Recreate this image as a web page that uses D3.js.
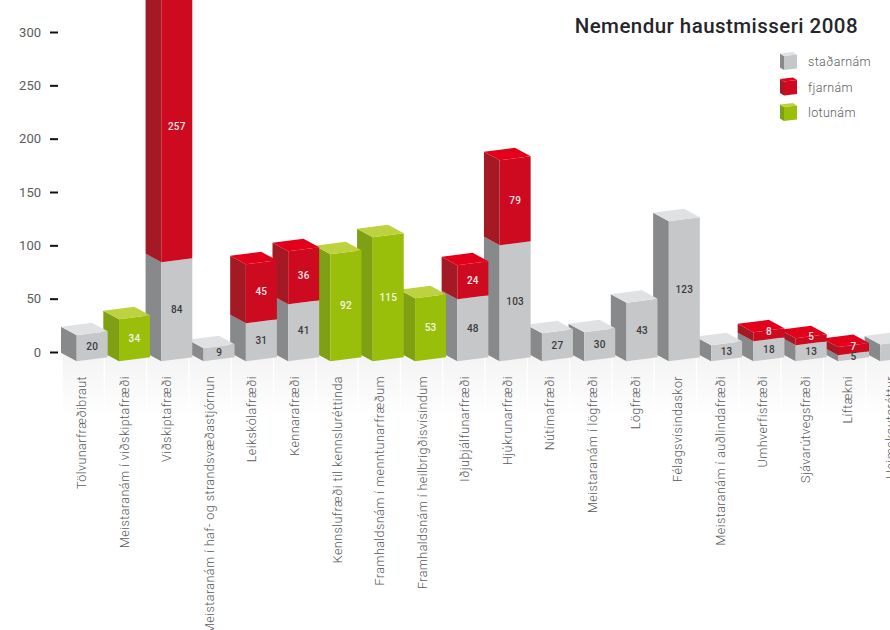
<!DOCTYPE html>
<html><head><meta charset="utf-8">
<script src="https://cdn.jsdelivr.net/npm/d3@7/dist/d3.min.js"></script>
<style>html,body{margin:0;padding:0;background:#fff;overflow:hidden}svg{display:block}text{font-family:Roboto,sans-serif}</style>
</head><body><svg id="c" width="890" height="630"></svg>
<script>
const title = "Nemendur haustmisseri 2008";
const categories = ["Tölvunarfræðibraut","Meistaranám í viðskiptafræði","Viðskiptafræði","Meistaranám í haf- og strandsvæðastjórnun","Leikskólafræði","Kennarafræði","Kennslufræði til kennsluréttinda","Framhaldsnám í menntunarfræðum","Framhaldsnám í heilbrigðisvísindum","Iðjuþjálfunarfræði","Hjúkrunarfræði","Nútímafræði","Meistaranám í lögfræði","Lögfræði","Félagsvísindaskor","Meistaranám í auðlindafræði","Umhverfisfræði","Sjávarútvegsfræði","Líftækni","Heimskautaréttur"];
const stadnam = [20,0,84,9,31,41,0,0,0,48,103,27,30,43,123,13,18,13,5,14];
const fjarnam = [0,0,257,0,45,36,0,0,0,24,79,0,0,0,0,0,8,5,7,0];
const lotunam = [0,34,0,0,0,0,92,115,53,0,0,0,0,0,0,0,0,0,0,0];
const legendLabels = ["staðarnám","fjarnám","lotunám"];
const yTicks = [0,50,100,150,200,250,300];

const palette = {
  gray:{front:"#c6c7c9",left:"#88898b",top:"#e0e1e2",text:"#3a3a3c"},
  red:{front:"#cd0a20",left:"#a31a24",top:"#e2001a",text:"#f6e6e8"},
  green:{front:"#9abf0b",left:"#7fa013",top:"#bed13f",text:"#f6f6e6"}
};
const svg = d3.select("#c");
const axisScale = d3.scaleLinear().domain([0,300]).range([352,32]);
// The drawn columns are not strictly proportional to the axis: piecewise scales.
const baseH = d3.scaleLinear()
  .domain([0,5,9,13,18,20,30,31,34,41,48,53,84,92,103,115,123])
  .range([0,6,13,16,20,26,29,38,42,57,62,63,99,107,116,124,140]);
const topH = d3.scaleLinear()
  .domain([0,5,8,24,36,45,79,257])
  .range([0,7,9,34,53,59,85,268]);
const xPos = d3.scaleLinear().domain([0,18]).range([76.7,838]);
const labelPos = d3.scaleLinear().domain([0,18]).range([81.7,848]);

const defs = svg.append("defs");
const g = defs.append("linearGradient").attr("id","fade").attr("x1",0).attr("x2",0).attr("y1",0).attr("y2",1);
g.append("stop").attr("offset",0).attr("stop-color","#f3f3f3");
g.append("stop").attr("offset",1).attr("stop-color","#ffffff");

// reflection
svg.append("g").selectAll("rect").data(categories).join("rect")
  .attr("x",(d,i)=>xPos(i)-14).attr("width",41).attr("y",352).attr("height",66).attr("fill","url(#fade)");

// axis
const axis = svg.append("g").attr("transform","translate(58,0)")
  .call(d3.axisLeft(axisScale).tickValues(yTicks).tickSize(8).tickPadding(9));
axis.select(".domain").remove();
axis.selectAll("line").attr("stroke","#111").attr("stroke-width",2);
axis.selectAll("text").attr("fill","#5b5c5e").style("font-size","13px").style("font-family","Roboto,sans-serif");

// category labels
svg.append("g").selectAll("text").data(categories).join("text")
  .attr("transform",(d,i)=>`translate(${labelPos(i)},376) rotate(-90)`)
  .attr("text-anchor","end").attr("dy","0.35em")
  .attr("fill","#58595b").style("font-size","12.5px").style("font-weight",300).style("letter-spacing","0.45px")
  .text(d=>d);

const W = 31, L = 15.7, sF = 4, BASE = 361.3;
const pts = a => a.map(p=>p.join(",")).join(" ");
function segment(layer,x,h0,h1,c,withTop,w=W,l=L,s=sF,base=BASE,dropL=8.5){
  layer.append("polygon").attr("fill",c.left)
    .attr("points",pts([[x-l,base-dropL-h0],[x,base-h0],[x,base-h1],[x-l,base-dropL-h1]]));
  layer.append("polygon").attr("fill",c.front)
    .attr("points",pts([[x,base-h0],[x+w,base-s-h0],[x+w,base-s-h1],[x,base-h1]]));
  if(withTop) layer.append("polygon").attr("fill",c.top)
    .attr("points",pts([[x,base-h1],[x+w,base-s-h1],[x+w-l,base-s-dropL-h1],[x-l,base-dropL-h1]]));
}
function valueLabel(layer,x,h0,h1,v,c){
  if(x+15.5 > 885) return; // falls past the right edge of the picture
  const lift = h1-h0 < 10 && h0 > 0 ? 3 : 0;
  layer.append("text").attr("x",x+15.5).attr("y",BASE-2-(h0+h1)/2-lift).attr("dy","0.35em")
    .attr("text-anchor","middle").attr("fill",c.text)
    .style("font-size","10px").style("font-weight",500).style("letter-spacing","0.2px").text(v);
}
// left columns overlap the ones on their right, so draw from right to left
const bars = svg.append("g");
d3.range(categories.length-1,-1,-1).forEach(i=>{
  const x = xPos(i), layer = bars.append("g");
  if(lotunam[i]){
    const h = baseH(lotunam[i]);
    segment(layer,x,0,h,palette.green,true);
    valueLabel(layer,x,0,h,lotunam[i],palette.green);
  } else {
    const h = baseH(stadnam[i]);
    const t = fjarnam[i] ? topH(fjarnam[i]) : 0;
    segment(layer,x,0,h,palette.gray,!t);
    if(t) segment(layer,x,h,h+t,palette.red,true);
    valueLabel(layer,x,0,h,stadnam[i],palette.gray);
    if(t) valueLabel(layer,x,h,h+t,fjarnam[i],palette.red);
  }
});

// title
svg.append("text").attr("x",858).attr("y",33).attr("text-anchor","end")
  .attr("fill","#26262a").style("font-size","20.5px").style("font-weight",500).style("letter-spacing","0.45px").text(title);

// legend
const legendColors = [palette.gray,palette.red,palette.green];
const legendY = d3.scalePoint().domain(legendLabels).range([70,121]);
legendLabels.forEach((name,i)=>{
  const y = legendY(name), c = legendColors[i], lg = svg.append("g");
  segment(lg,784,0,14,c,true,13,4,1.5,y,2.5);
  lg.append("text").attr("x",808).attr("y",y-8).attr("dy","0.35em")
    .attr("fill","#5b5c5e").style("font-size","12.5px").style("font-weight",300).style("letter-spacing","0.35px").text(name);
});
</script></body></html>
